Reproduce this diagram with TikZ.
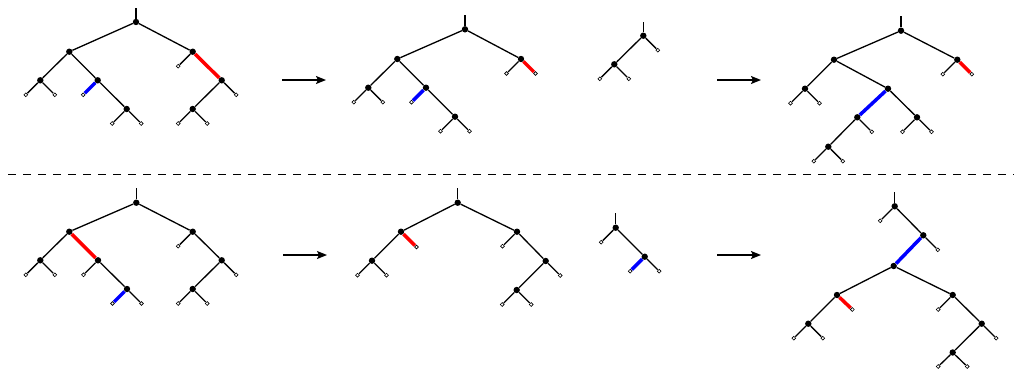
\documentclass[tikz,border=0pt]{standalone}
\usetikzlibrary{arrows.meta}
\begin{document}
\begin{tikzpicture}[x=1pt,y=-1pt,
  int/.style={circle,fill=black,inner sep=0pt,minimum size=6.4pt},
  lf/.style={circle,draw=black,fill=white,line width=0.6pt,inner sep=0pt,minimum size=3.8pt},
  ed/.style={line width=1.3pt,black},
  red edge/.style={line width=3.5pt,red},
  blue edge/.style={line width=3.5pt,blue},
  arr/.style={line width=1.4pt,-{Stealth[length=10pt,width=8pt,inset=2pt]}},
  sep/.style={line width=0.9pt,dash pattern=on 7.5pt off 7.5pt}]
\useasboundingbox (0,0) rectangle (1021,368);

% ---------- Tree A (top left)
\coordinate (as) at (136,8);
\node[int] (a0) at (136,22) {};
\node[int] (a1) at (69.3,51.7) {};
\node[int] (a2) at (192.7,51.7) {};
\node[int] (a3) at (40.3,80.3) {};
\node[int] (a4) at (97.7,80.3) {};
\node[int] (a5) at (221.7,80.3) {};
\node[int] (a6) at (126.7,109) {};
\node[int] (a7) at (192.7,109) {};
\node[lf] (a3l) at (25.8,94.8) {};
\node[lf] (a3r) at (54.8,94.8) {};
\node[lf] (a4l) at (83.2,94.8) {};
\node[lf] (a2l) at (178.2,66.2) {};
\node[lf] (a5r) at (236.2,94.8) {};
\node[lf] (a6l) at (112.2,123.5) {};
\node[lf] (a6r) at (141.2,123.5) {};
\node[lf] (a7l) at (178.2,123.5) {};
\node[lf] (a7r) at (207.2,123.5) {};
\draw[ed] (a0) -- (as);
\draw[ed] (a0) -- (a1); \draw[ed] (a0) -- (a2);
\draw[ed] (a1) -- (a3); \draw[ed] (a1) -- (a4);
\draw[red edge] (a2) -- (a5);
\draw[ed] (a4) -- (a6); \draw[ed] (a5) -- (a7);
\draw[ed] (a3) -- (a3l); \draw[ed] (a3) -- (a3r);
\draw[blue edge] (a4) -- (a4l);
\draw[ed] (a2) -- (a2l); \draw[ed] (a5) -- (a5r);
\draw[ed] (a6) -- (a6l); \draw[ed] (a6) -- (a6r);
\draw[ed] (a7) -- (a7l); \draw[ed] (a7) -- (a7r);

% ---------- Tree B (top middle)
\coordinate (bs) at (465,15);
\node[int] (b0) at (465,29.3) {};
\node[int] (b1) at (397.3,59) {};
\node[int] (b2) at (521,59) {};
\node[int] (b3) at (368.3,87.7) {};
\node[int] (b4) at (426,87.7) {};
\node[int] (b5) at (455,116.7) {};
\node[lf] (b3l) at (353.8,102.2) {};
\node[lf] (b3r) at (382.8,102.2) {};
\node[lf] (b4l) at (411.5,102.2) {};
\node[lf] (b2l) at (506.5,73.5) {};
\node[lf] (b2r) at (535.5,73.5) {};
\node[lf] (b5l) at (440.5,131.2) {};
\node[lf] (b5r) at (469.5,131.2) {};
\draw[ed] (b0) -- (bs);
\draw[ed] (b0) -- (b1); \draw[ed] (b0) -- (b2);
\draw[ed] (b1) -- (b3); \draw[ed] (b1) -- (b4);
\draw[ed] (b4) -- (b5);
\draw[ed] (b3) -- (b3l); \draw[ed] (b3) -- (b3r);
\draw[blue edge] (b4) -- (b4l);
\draw[ed] (b2) -- (b2l);
\draw[red edge] (b2) -- (b2r);
\draw[ed] (b5) -- (b5l); \draw[ed] (b5) -- (b5r);

% ---------- Small tree C (top)
\coordinate (cs) at (643.3,21.7);
\node[int] (c0) at (643.3,35.7) {};
\node[int] (c1) at (614.3,64.3) {};
\node[lf] (c0r) at (657.8,50.2) {};
\node[lf] (c1l) at (599.8,78.8) {};
\node[lf] (c1r) at (628.8,78.8) {};
\draw[ed] (c0) -- (cs);
\draw[ed] (c0) -- (c1); \draw[ed] (c0) -- (c0r);
\draw[ed] (c1) -- (c1l); \draw[ed] (c1) -- (c1r);

% ---------- Tree D (top right)
\coordinate (ds) at (901,16);
\node[int] (d0) at (901,30.7) {};
\node[int] (d1) at (834,59.7) {};
\node[int] (d2) at (957.3,59.7) {};
\node[int] (d3) at (805,88.7) {};
\node[int] (d4) at (888,88.7) {};
\node[int] (d5) at (857.3,117.3) {};
\node[int] (d6) at (917,117.3) {};
\node[int] (d7) at (828.3,146.7) {};
\node[lf] (d2l) at (942.8,74.2) {};
\node[lf] (d2r) at (971.8,74.2) {};
\node[lf] (d3l) at (790.5,103.2) {};
\node[lf] (d3r) at (819.5,103.2) {};
\node[lf] (d5r) at (871.8,131.8) {};
\node[lf] (d6l) at (902.5,131.8) {};
\node[lf] (d6r) at (931.5,131.8) {};
\node[lf] (d7l) at (813.8,161.2) {};
\node[lf] (d7r) at (842.8,161.2) {};
\draw[ed] (d0) -- (ds);
\draw[ed] (d0) -- (d1); \draw[ed] (d0) -- (d2);
\draw[ed] (d2) -- (d2l); \draw[red edge] (d2) -- (d2r);
\draw[ed] (d1) -- (d3); \draw[ed] (d1) -- (d4);
\draw[ed] (d3) -- (d3l); \draw[ed] (d3) -- (d3r);
\draw[blue edge] (d4) -- (d5); \draw[ed] (d4) -- (d6);
\draw[ed] (d5) -- (d7); \draw[ed] (d5) -- (d5r);
\draw[ed] (d6) -- (d6l); \draw[ed] (d6) -- (d6r);
\draw[ed] (d7) -- (d7l); \draw[ed] (d7) -- (d7r);

% ---------- Tree E (bottom left)
\coordinate (es) at (136.3,188.3);
\node[int] (e0) at (136.3,202.7) {};
\node[int] (e1) at (69.3,231.7) {};
\node[int] (e2) at (192.7,231.7) {};
\node[int] (e3) at (40.3,260.3) {};
\node[int] (e4) at (98,260.3) {};
\node[int] (e5) at (127,289) {};
\node[int] (e6) at (221.7,260.3) {};
\node[int] (e7) at (192.7,289) {};
\node[lf] (e3l) at (25.8,274.8) {};
\node[lf] (e3r) at (54.8,274.8) {};
\node[lf] (e4l) at (83.5,274.8) {};
\node[lf] (e5l) at (112.5,303.5) {};
\node[lf] (e5r) at (141.5,303.5) {};
\node[lf] (e2l) at (178.2,246.2) {};
\node[lf] (e6r) at (236.2,274.8) {};
\node[lf] (e7l) at (178.2,303.5) {};
\node[lf] (e7r) at (207.2,303.5) {};
\draw[ed] (e0) -- (es);
\draw[ed] (e0) -- (e1); \draw[ed] (e0) -- (e2);
\draw[ed] (e1) -- (e3); \draw[red edge] (e1) -- (e4);
\draw[ed] (e3) -- (e3l); \draw[ed] (e3) -- (e3r);
\draw[ed] (e4) -- (e4l); \draw[ed] (e4) -- (e5);
\draw[blue edge] (e5) -- (e5l); \draw[ed] (e5) -- (e5r);
\draw[ed] (e2) -- (e2l); \draw[ed] (e2) -- (e6);
\draw[ed] (e6) -- (e7); \draw[ed] (e6) -- (e6r);
\draw[ed] (e7) -- (e7l); \draw[ed] (e7) -- (e7r);

% ---------- Tree F (bottom middle)
\coordinate (fs) at (457.7,188.3);
\node[int] (f0) at (457.7,202.7) {};
\node[int] (f1) at (401,231.7) {};
\node[int] (f2) at (517,231.7) {};
\node[int] (f3) at (372,260.7) {};
\node[int] (f4) at (545.7,261) {};
\node[int] (f5) at (516.7,290) {};
\node[lf] (f1r) at (416.5,247) {};
\node[lf] (f3l) at (357.5,275.2) {};
\node[lf] (f3r) at (386.5,275.2) {};
\node[lf] (f2l) at (502.5,246.2) {};
\node[lf] (f4r) at (560.2,275.5) {};
\node[lf] (f5l) at (502.2,304.5) {};
\node[lf] (f5r) at (531.2,304.5) {};
\draw[ed] (f0) -- (fs);
\draw[ed] (f0) -- (f1); \draw[ed] (f0) -- (f2);
\draw[ed] (f1) -- (f3); \draw[red edge] (f1) -- (f1r);
\draw[ed] (f3) -- (f3l); \draw[ed] (f3) -- (f3r);
\draw[ed] (f2) -- (f2l); \draw[ed] (f2) -- (f4);
\draw[ed] (f4) -- (f5); \draw[ed] (f4) -- (f4r);
\draw[ed] (f5) -- (f5l); \draw[ed] (f5) -- (f5r);

% ---------- Small tree G (bottom)
\coordinate (gs) at (615.7,213.3);
\node[int] (g0) at (615.7,227.7) {};
\node[int] (g1) at (644.7,256.7) {};
\node[lf] (g0l) at (601.2,242.2) {};
\node[lf] (g1l) at (630.2,271.2) {};
\node[lf] (g1r) at (659.2,271.2) {};
\draw[ed] (g0) -- (gs);
\draw[ed] (g0) -- (g0l); \draw[ed] (g0) -- (g1);
\draw[blue edge] (g1) -- (g1l); \draw[ed] (g1) -- (g1r);

% ---------- Tree H (bottom right)
\coordinate (hs) at (894.7,191.7);
\node[int] (h0) at (894.7,206.3) {};
\node[int] (h1) at (923.3,235.3) {};
\node[int] (h2) at (893.7,266) {};
\node[int] (h3) at (837,295) {};
\node[int] (h4) at (952.7,295) {};
\node[int] (h5) at (808.3,323.7) {};
\node[int] (h6) at (981.7,323.7) {};
\node[int] (h7) at (952.7,352.5) {};
\node[lf] (h0l) at (880.2,220.8) {};
\node[lf] (h1r) at (937.8,249.8) {};
\node[lf] (h3r) at (852.3,309.5) {};
\node[lf] (h5l) at (793.8,338.2) {};
\node[lf] (h5r) at (822.8,338.2) {};
\node[lf] (h4l) at (938.2,309.5) {};
\node[lf] (h6r) at (996.2,338.2) {};
\node[lf] (h7l) at (938.2,366.5) {};
\node[lf] (h7r) at (967.2,366.5) {};
\draw[ed] (h0) -- (hs);
\draw[ed] (h0) -- (h0l); \draw[ed] (h0) -- (h1);
\draw[ed] (h1) -- (h1r); \draw[blue edge] (h1) -- (h2);
\draw[ed] (h2) -- (h3); \draw[ed] (h2) -- (h4);
\draw[ed] (h3) -- (h5); \draw[red edge] (h3) -- (h3r);
\draw[ed] (h5) -- (h5l); \draw[ed] (h5) -- (h5r);
\draw[ed] (h4) -- (h4l); \draw[ed] (h4) -- (h6);
\draw[ed] (h6) -- (h7); \draw[ed] (h6) -- (h6r);
\draw[ed] (h7) -- (h7l); \draw[ed] (h7) -- (h7r);

% ---------- Arrows
\coordinate (p1s) at (282,80); \coordinate (p1e) at (326,80);
\coordinate (p2s) at (717,80); \coordinate (p2e) at (761,80);
\coordinate (p3s) at (283,255); \coordinate (p3e) at (327,255);
\coordinate (p4s) at (717,255); \coordinate (p4e) at (761,255);
\draw[arr] (p1s) -- (p1e);
\draw[arr] (p2s) -- (p2e);
\draw[arr] (p3s) -- (p3e);
\draw[arr] (p4s) -- (p4e);

% ---------- Separator
\coordinate (ls) at (8,174.3); \coordinate (le) at (1014,174.3);
\draw[sep] (ls) -- (le);
\end{tikzpicture}
\end{document}
